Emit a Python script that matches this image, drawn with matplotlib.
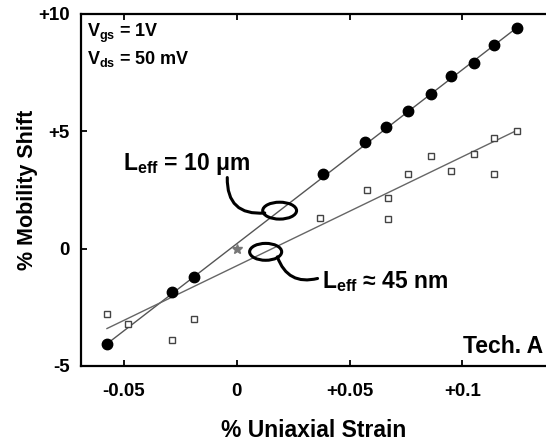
import numpy as np
import matplotlib
matplotlib.use("Agg")
import matplotlib.pyplot as plt
from matplotlib.patches import Ellipse

plt.rcParams['font.family'] = ['Liberation Sans', 'DejaVu Sans']
plt.rcParams['mathtext.fontset'] = 'custom'
plt.rcParams['mathtext.rm'] = 'Liberation Sans'
plt.rcParams['mathtext.it'] = 'Liberation Sans'
plt.rcParams['mathtext.bf'] = 'Liberation Sans:bold'

# Data: L_eff = 10 um (filled circles)
strain_10um = [-0.0575, -0.0288, -0.019, 0.038, 0.057, 0.066, 0.076, 0.086, 0.095, 0.105, 0.114, 0.124]
shift_10um = [-4.06, -1.84, -1.2, 3.2, 4.53, 5.17, 5.86, 6.58, 7.35, 7.9, 8.68, 9.4]
# Data: L_eff = 45 nm (open squares)
strain_45nm = [-0.0575, -0.048, -0.0288, -0.019, 0.0367, 0.0575, 0.0668, 0.0668, 0.076, 0.086, 0.095, 0.105, 0.114, 0.114, 0.124]
shift_45nm = [-2.78, -3.2, -3.9, -3.0, 1.32, 2.48, 2.18, 1.28, 3.2, 3.93, 3.33, 4.02, 3.2, 4.7, 5.0]
# Reference point
strain_ref = [0.0]
shift_ref = [0.0]
# Fit lines (slope, intercept)
fit_10um = (74.2, 0.21)
fit_45nm = (46.5, -0.73)

xticks = [-0.05, 0, 0.05, 0.1]
xticklabels = ['-0.05', '0', '+0.05', '+0.1']
yticks = [-5, 0, 5, 10]
yticklabels = ['-5', '0', '+5', '+10']

fig = plt.figure(figsize=(5.46, 4.45), dpi=100)
ax = fig.add_axes([81/546, 79/445, 1 - 81/546, (366-14)/445])
ax.set_xlim(-0.069, 0.137)
ax.set_ylim(-5, 10)

fx = np.array([min(strain_10um), max(strain_10um)])
ax.plot(fx, fit_10um[0]*fx + fit_10um[1], color='#555555', lw=1.0, zorder=2)
gx = np.array([min(strain_45nm), max(strain_45nm)])
ax.plot(gx, fit_45nm[0]*gx + fit_45nm[1], color='#666666', lw=1.0, zorder=2)

ax.plot(strain_10um, shift_10um, 'o', ms=7.5, color='black', zorder=3)
ax.plot(strain_45nm, shift_45nm, 's', ms=5, mfc='white', mec='#444444', mew=1.0, zorder=3)
ax.plot(strain_ref, shift_ref, '*', ms=7, color='#777777', zorder=3)

for s in ['left', 'bottom', 'top']:
    ax.spines[s].set_linewidth(1.6)
ax.spines['right'].set_visible(False)

ax.set_xticks(xticks)
ax.set_xticklabels(xticklabels)
ax.set_yticks(yticks)
ax.set_yticklabels(yticklabels)
ax.tick_params(axis='x', direction='in', length=4, width=1.3, top=True, pad=12, labelsize=13.5)
ax.tick_params(axis='y', direction='in', length=4, width=1.3, pad=8, labelsize=13.5)
for lab in ax.get_xticklabels() + ax.get_yticklabels():
    lab.set_fontweight('bold')

ax.set_xlabel('% Uniaxial Strain', fontsize=16.5, fontweight='bold', labelpad=14)
ax.set_ylabel('% Mobility Shift', fontsize=15.5, fontweight='bold', labelpad=0)

# Annotations
ax.text(0.012, 0.946, r'V$_{\mathbf{gs}}$ = 1V', transform=ax.transAxes, fontsize=13,
        fontweight='bold', va='center', ha='left')
ax.text(0.012, 0.873, r'V$_{\mathbf{ds}}$ = 50 mV', transform=ax.transAxes, fontsize=13,
        fontweight='bold', va='center', ha='left')
ax.text(-0.0505, 3.62, r'L$_{\mathbf{eff}}$ = 10 $\mathbf{\mu}$m', fontsize=16.5, fontweight='bold',
        va='center', ha='left')
ax.text(0.0378, -1.4, r'L$_{\mathbf{eff}}$ ≈ 45 nm', fontsize=16.5, fontweight='bold',
        va='center', ha='left')
ax.text(0.993, 0.056, 'Tech. A', transform=ax.transAxes, fontsize=16.5, fontweight='bold',
        va='center', ha='right')

# Ellipses on fit lines
e1x = 0.019
e2x = 0.0128
ax.add_patch(Ellipse((e1x, fit_10um[0]*e1x + fit_10um[1]), 0.0150, 0.72, fill=False, lw=2.2, color='black', zorder=4))
ax.add_patch(Ellipse((e2x, fit_45nm[0]*e2x + fit_45nm[1]), 0.0142, 0.72, fill=False, lw=2.2, color='black', zorder=4))

ax.annotate('', xy=(0.0124, 1.52), xytext=(-0.0042, 3.03),
            arrowprops=dict(arrowstyle='-', connectionstyle='arc3,rad=0.55', lw=2.2, color='black',
                            shrinkA=0, shrinkB=0))
ax.annotate('', xy=(0.0358, -1.27), xytext=(0.018, -0.35),
            arrowprops=dict(arrowstyle='-', connectionstyle='arc3,rad=0.45', lw=2.2, color='black',
                            shrinkA=0, shrinkB=0))

fig.savefig('out.png', dpi=100)
